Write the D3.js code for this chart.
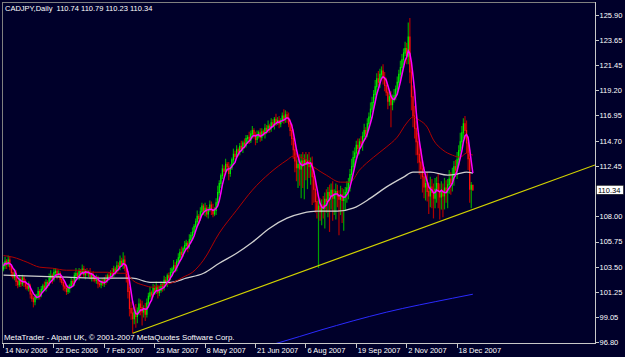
<!DOCTYPE html>
<html>
<head>
<meta charset="utf-8">
<script src="https://cdn.jsdelivr.net/npm/d3@7"></script>
<style>
  html, body { margin: 0; padding: 0; background: #00002a; }
  svg { display: block; }
  .txt { font-family: "Liberation Sans", Arial, sans-serif; font-size: 7.5px; fill: #ffffff; white-space: pre; }
  .axis path { display: none; }
  .axis line { stroke: #c8c8c8; shape-rendering: crispEdges; }
  .axis text { font-family: "Liberation Sans", Arial, sans-serif; font-size: 7.5px; fill: #ffffff; }
  .wick { stroke-width: 1.2; }
  .body { stroke-width: 1.2; }
  .fast { fill: none; stroke: #ff00ff; stroke-width: 1.5; }
  .ma-red { fill: none; stroke: #b00000; stroke-width: 1; }
  .ma-white { fill: none; stroke: #d0d0d0; stroke-width: 1.3; }
  .ma-blue { fill: none; stroke: #2a2aff; stroke-width: 1; }
  .trend { stroke: #d2d200; stroke-width: 1.2; }
</style>
</head>
<body>
<svg id="chart" width="625" height="357"></svg>
<script>
var symbol = "CADJPY", period = "Daily";
var copyright = "MetaTrader - Alpari UK, \u00a9 2001-2007 MetaQuotes Software Corp.";

// daily closes, 14 Nov 2006 ... end of Dec 2007 (open = previous close)
var firstOpen = 103.3;
var closes = [
  103.6,104.0,103.7,104.1,103.5,103.0,102.6,102.9,102.2,101.9,
  102.4,102.0,102.5,102.1,101.8,101.6,101.8,101.1,100.7,100.4,
  100.8,100.9,101.3,101.0,101.5,101.8,101.6,102.1,102.0,102.5,
  102.7,102.4,103.0,103.1,102.8,102.9,102.4,102.1,101.8,101.6,
  101.3,101.6,101.8,102.2,102.0,102.7,102.9,102.6,103.1,103.0,
  103.3,102.8,103.1,102.9,103.0,102.6,102.8,102.5,102.3,102.5,
  102.0,101.9,102.2,102.0,102.4,102.3,102.7,102.6,103.0,102.8,
  103.3,103.1,103.6,103.5,104.0,103.7,104.1,103.4,102.6,101.3,
  99.8,99.4,98.9,99.5,99.1,99.6,100.2,99.9,99.5,99.8,
  99.3,100.3,100.9,101.2,101.0,101.6,101.4,101.7,101.2,101.4,
  101.9,101.7,102.3,102.1,102.7,102.5,103.0,103.3,103.6,103.4,
  104.0,104.3,104.8,104.6,105.1,105.4,105.6,105.3,105.9,106.3,
  106.6,107.1,107.5,108.0,107.8,108.4,108.9,108.5,108.7,108.2,
  108.6,109.0,108.6,108.2,108.5,109.2,110.1,110.9,111.6,112.2,
  112.0,112.6,112.4,111.8,112.3,113.0,113.5,113.3,113.9,113.7,
  114.2,114.0,114.5,114.3,114.9,115.0,114.7,115.3,115.6,115.2,
  114.8,115.1,115.4,115.0,115.5,115.3,115.8,115.6,116.0,115.8,
  116.3,116.1,116.6,116.3,116.5,116.2,116.5,116.9,116.6,117.0,
  116.7,116.2,115.6,114.9,113.9,112.9,112.3,112.6,112.2,112.9,
  112.5,113.0,112.6,112.9,112.4,112.7,111.5,110.4,109.3,108.6,
  108.9,108.4,109.0,108.7,109.5,109.3,110.1,109.8,110.3,109.6,
  109.9,110.2,109.8,109.5,109.9,109.4,109.7,110.1,110.5,111.0,
  111.7,112.4,113.2,113.6,114.3,114.0,114.6,114.4,115.1,115.6,
  115.3,116.2,116.8,117.5,118.1,118.8,119.5,120.2,119.9,120.6,
  120.9,120.3,119.6,119.0,118.2,118.6,117.9,118.4,118.7,119.3,
  119.9,120.6,121.2,121.9,122.5,122.9,122.2,123.9,120.8,118.6,
  116.9,115.8,114.6,113.5,112.8,112.2,111.5,110.6,110.9,110.2,
  109.8,110.6,110.1,109.6,110.4,110.9,110.2,109.7,110.3,109.8,
  110.5,110.1,110.8,111.3,110.9,111.6,112.4,112.1,113.0,113.8,
  114.6,115.4,116.2,115.6,114.5,113.1,110.4,110.74,110.34
];

// wick lengths in tenths of a yen, above and below the candle body
var hiWick = [
  3,4,2,4,3,2,4,2,3,2, 4,2,3,2,3,2,4,2,3,2, 3,2,4,2,3,2,4,3,2,4,
  5,2,4,3,2,3,2,3,2,3, 2,3,2,4,2,3,5,2,3,2, 4,3,2,3,2,4,2,3,2,3,
  2,3,2,3,2,4,2,3,2,4, 3,2,4,3,5,3,7,4,3,5, 4,6,5,4,7,3,5,4,6,3,
  5,4,3,5,2,4,3,5,2,4, 3,2,4,3,2,3,4,2,5,3, 2,4,3,5,2,4,3,2,5,3,
  4,2,3,5,2,4,3,2,5,3, 2,4,3,5,3,4,6,3,2,4, 3,5,2,4,3,2,5,3,4,2,
  3,5,2,4,3,2,5,3,4,2, 3,5,2,4,3,2,4,3,5,2, 4,3,2,5,3,4,2,3,6,4,
  3,5,4,6,8,6,7,5,9,6, 8,5,7,6,8,5,6,9,7,8, 6,7,5,8,6,9,5,7,6,8,
  5,7,6,5,8,6,7,5,6,4, 5,7,6,5,4,6,3,5,4,6, 3,5,4,6,5,4,6,5,7,5,
  4,6,5,7,4,6,5,4,6,3, 5,4,6,5,4,6,5,13,17,8, 10,9,7,8,10,12,8,9,7,10,
  8,9,7,8,10,6,9,7,8,6, 9,7,5,8,6,7,5,6,7,5, 8,6,5,7,9,6,8,3,0.5
];
var loWick = [
  2,3,4,2,3,4,2,3,4,3, 2,3,2,4,3,2,3,4,3,5, 3,2,3,4,2,3,2,3,4,2,
  3,4,2,3,4,2,3,2,4,3, 3,2,4,2,3,2,4,2,3,4, 2,3,4,2,3,2,4,3,2,3,
  4,2,3,2,3,4,2,3,2,3, 2,3,2,4,3,2,4,3,5,6, 7,6,13,5,10,6,4,7,12,5,
  6,3,4,3,5,2,4,3,5,3, 2,4,3,2,4,3,2,3,2,4, 3,2,4,3,2,4,3,5,2,3,
  4,3,2,4,5,2,3,4,5,3, 4,2,5,3,2,4,3,2,4,3, 5,3,4,6,3,2,4,3,2,4,
  3,2,4,3,2,5,3,2,4,3, 5,3,2,4,3,2,4,3,2,4, 3,2,4,3,2,4,3,2,4,3,
  4,3,5,6,8,10,12,18,15,26, 20,30,14,22,10,16,25,12,10,8, 52,8,12,9,18,10,14,32,12,20,
  15,22,10,32,14,20,27,12,9,10, 8,6,5,7,4,6,5,3,6,4, 5,3,4,6,3,5,4,6,3,5,
  4,6,5,3,7,4,20,5,3,4, 5,3,4,6,5,3,7,7,10,12, 10,9,12,8,11,9,14,10,12,9,
  16,10,14,18,9,12,15,20,11,19, 12,9,14,8,10,7,9,6,8,5, 7,6,5,8,9,10,12,17,1.1
];

var dateTicks = [0, 32, 64, 96, 128, 160, 192, 224, 256, 288];
var dateLabels = ["14 Nov 2006", "22 Dec 2006", "7 Feb 2007", "23 Mar 2007", "8 May 2007",
                  "21 Jun 2007", "6 Aug 2007", "19 Sep 2007", "2 Nov 2007", "18 Dec 2007"];
var priceTicks = [125.90, 123.65, 121.45, 119.20, 116.95, 114.70, 112.45,
                  108.00, 105.75, 103.50, 101.25, 99.05, 96.80];

// moving averages (bar index, value)
var redBars = [0,6,15,23,31,40,49,57,66,74,78,82,89,95,101,108,114,120,127,137,148,158,169,180,
               184,190,197,205,214,220,226,235,243,250,256,260,264,269,273,279,285,290,294,298];
var redVals = [104.5,104.36,103.91,103.47,103.38,103.2,103.2,103.02,103.02,102.93,102.93,102.31,
               101.87,101.69,101.87,102.13,102.58,103.02,104.1,106.5,108.53,110.31,111.82,112.98,
               113.33,113.16,112.36,111.64,111.02,111.02,112.09,113.24,114.13,115.02,116.27,116.8,
               116.53,115.91,114.76,113.87,113.42,113.24,113.6,113.42];
var whiteBars = [0,19,40,61,82,93,106,116,127,137,148,158,169,180,190,199,212,222,233,243,254,260,271,282,288,294,298];
var whiteVals = [102.76,102.67,102.58,102.49,102.49,102.13,102.13,102.49,102.93,103.82,104.71,105.69,
                 106.93,107.82,108.27,108.44,108.44,108.71,109.6,110.58,111.47,111.91,111.91,111.64,
                 111.73,111.91,111.82];
var blueBars = [165, 175, 201, 243, 285, 298];
var blueVals = [96.4, 96.77, 97.87, 99.47, 100.71, 101.07];

// trend line anchors (bar, price), extended to the right edge
var trendBars = [82, 298];
var trendVals = [97.6, 108.6];

var fastPeriod = 5;

var svg = d3.select("#chart");
var plot = {left: 2, right: 595, top: 2, bottom: 343};
var step = 1.575;

var x = d3.scaleLinear().domain([0, closes.length - 1])
  .range([3.5, 3.5 + (closes.length - 1) * step]);
var y = d3.scaleLinear().domain([96.80, 125.90]).range([342.3, 14.6]);

var bars = closes.map(function(c, i) {
  var o = i ? closes[i - 1] : firstOpen;
  return {
    i: i, o: o, c: c,
    h: Math.max(o, c) + hiWick[i] / 10,
    l: Math.min(o, c) - loWick[i] / 10
  };
});

svg.append("rect").attr("width", 625).attr("height", 357).attr("fill", "#00002a");

svg.append("defs").append("clipPath").attr("id", "clip")
  .append("rect")
  .attr("x", plot.left).attr("y", plot.top)
  .attr("width", plot.right - plot.left).attr("height", plot.bottom - plot.top);

var g = svg.append("g").attr("clip-path", "url(#clip)");

// candles: darker wick, brighter body
g.selectAll(".wick").data(bars).enter().append("line")
  .attr("class", "wick")
  .attr("x1", function(d) { return x(d.i); })
  .attr("x2", function(d) { return x(d.i); })
  .attr("y1", function(d) { return y(d.h); })
  .attr("y2", function(d) { return y(d.l); })
  .attr("stroke", function(d) { return d.c >= d.o ? "#00a000" : "#b00000"; });

g.selectAll(".body").data(bars).enter().append("line")
  .attr("class", "body")
  .attr("x1", function(d) { return x(d.i); })
  .attr("x2", function(d) { return x(d.i); })
  .attr("y1", function(d) { return y(Math.max(d.o, d.c)) - 0.5; })
  .attr("y2", function(d) { return y(Math.min(d.o, d.c)) + 0.5; })
  .attr("stroke", function(d) { return d.c >= d.o ? "#00f000" : "#ff1010"; });

var maLine = d3.line()
  .x(function(d) { return x(d[0]); })
  .y(function(d) { return y(d[1]); })
  .curve(d3.curveMonotoneX);

function pairs(b, v) { return b.map(function(k, j) { return [k, v[j]]; }); }

g.append("path").attr("class", "ma-blue").attr("d", maLine(pairs(blueBars, blueVals)));
g.append("path").attr("class", "ma-white").attr("d", maLine(pairs(whiteBars, whiteVals)));
g.append("path").attr("class", "ma-red").attr("d", maLine(pairs(redBars, redVals)));

// fast simple moving average of the closes
var fast = closes.map(function(c, i) {
  var from = Math.max(0, i - fastPeriod + 1);
  return [i, d3.mean(closes.slice(from, i + 1))];
});
g.append("path").attr("class", "fast")
  .attr("d", d3.line().x(function(d) { return x(d[0]); }).y(function(d) { return y(d[1]); })(fast));

// trend line ray
var slope = (trendVals[1] - trendVals[0]) / (trendBars[1] - trendBars[0]);
var endBar = x.invert(plot.right);
g.append("line").attr("class", "trend")
  .attr("x1", x(trendBars[0])).attr("y1", y(trendVals[0]))
  .attr("x2", x(endBar)).attr("y2", y(trendVals[0] + slope * (endBar - trendBars[0])));

// frame
svg.append("line").attr("x1", plot.left + 0.5).attr("x2", plot.right).attr("y1", plot.top + 0.5).attr("y2", plot.top + 0.5)
  .attr("stroke", "#808080");
svg.append("line").attr("x1", plot.left + 0.5).attr("x2", plot.left + 0.5).attr("y1", plot.top).attr("y2", plot.bottom)
  .attr("stroke", "#808080");
svg.append("line").attr("x1", plot.right + 0.5).attr("x2", plot.right + 0.5).attr("y1", plot.top).attr("y2", plot.bottom + 1)
  .attr("stroke", "#c8c8c8");
svg.append("line").attr("x1", plot.left).attr("x2", plot.right + 1).attr("y1", plot.bottom + 0.5).attr("y2", plot.bottom + 0.5)
  .attr("stroke", "#c8c8c8");

// price axis
svg.append("g").attr("class", "axis")
  .attr("transform", "translate(" + (plot.right + 0.5) + ",0)")
  .call(d3.axisRight(y).tickValues(priceTicks).tickSize(3).tickPadding(1).tickFormat(d3.format(".2f")));

// date axis
var xAxis = svg.append("g").attr("class", "axis")
  .attr("transform", "translate(0," + (plot.bottom + 0.5) + ")")
  .call(d3.axisBottom(x).tickValues(dateTicks).tickSize(4)
    .tickFormat(function(d, i) { return dateLabels[i]; }));
xAxis.selectAll(".tick line").attr("transform", "translate(-0.5,0)");
xAxis.selectAll(".tick text").attr("text-anchor", "start").attr("x", 1).attr("y", 4).attr("dy", "0.71em");

// last price marker
var last = bars[bars.length - 1];
var lastY = y(last.c);
svg.append("rect").attr("x", plot.right + 1.5).attr("y", lastY - 4.5).attr("width", 27).attr("height", 9)
  .attr("fill", "#ffffff").attr("stroke", "#000000").attr("stroke-width", 0.5);
svg.append("text").attr("class", "txt").attr("x", plot.right + 3).attr("y", lastY + 2.8)
  .style("fill", "#000000").text(last.c.toFixed(2));

// title and copyright
svg.append("text").attr("class", "txt").attr("x", 5).attr("y", 11)
  .text(symbol + "," + period + "  " + [last.o, last.h, last.l, last.c].map(function(v) { return v.toFixed(2); }).join(" "));
svg.append("text").attr("class", "txt").attr("x", 4).attr("y", 339.5)
  .style("font-size", "7.9px").text(copyright);
</script>
</body>
</html>
